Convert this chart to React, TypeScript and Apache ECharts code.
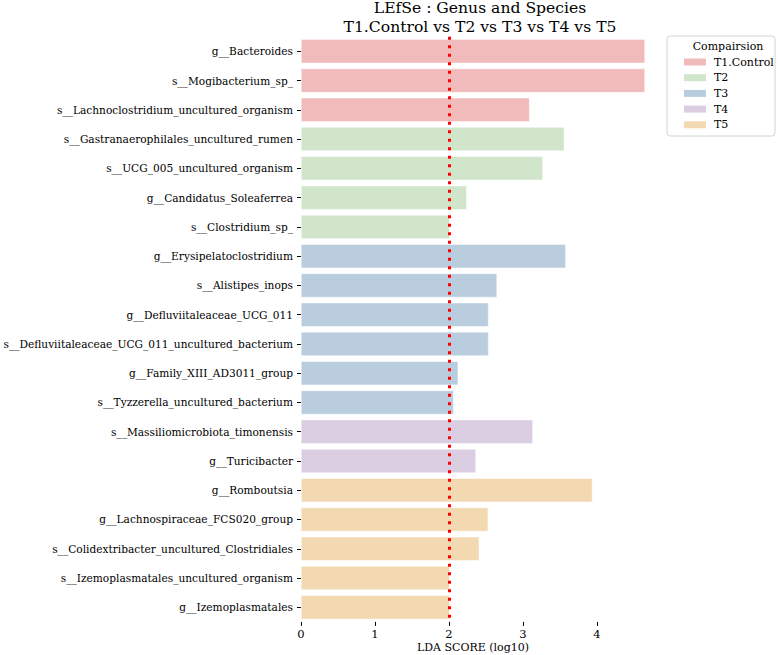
import React, { useEffect, useRef } from "react";
import * as echarts from "echarts";

const categories = [
  "g__Bacteroides",
  "s__Mogibacterium_sp_",
  "s__Lachnoclostridium_uncultured_organism",
  "s__Gastranaerophilales_uncultured_rumen",
  "s__UCG_005_uncultured_organism",
  "g__Candidatus_Soleaferrea",
  "s__Clostridium_sp_",
  "g__Erysipelatoclostridium",
  "s__Alistipes_inops",
  "g__Defluviitaleaceae_UCG_011",
  "s__Defluviitaleaceae_UCG_011_uncultured_bacterium",
  "g__Family_XIII_AD3011_group",
  "s__Tyzzerella_uncultured_bacterium",
  "s__Massiliomicrobiota_timonensis",
  "g__Turicibacter",
  "g__Romboutsia",
  "g__Lachnospiraceae_FCS020_group",
  "s__Colidextribacter_uncultured_Clostridiales",
  "s__Izemoplasmatales_uncultured_organism",
  "g__Izemoplasmatales",
];

const ldaScores = [
  4.65, 4.65, 3.09, 3.56, 3.27, 2.24, 2.01, 3.58, 2.65, 2.535, 2.535, 2.125,
  2.065, 3.135, 2.365, 3.94, 2.53, 2.41, 2.01, 2.01,
];

const groupOf = [
  "T1.Control", "T1.Control", "T1.Control",
  "T2", "T2", "T2", "T2",
  "T3", "T3", "T3", "T3", "T3", "T3",
  "T4", "T4",
  "T5", "T5", "T5", "T5", "T5",
];

const groups = ["T1.Control", "T2", "T3", "T4", "T5"];
const groupColors = ["#F0BBBA", "#D1E5CB", "#B9CDDF", "#DBCDE2", "#F3D9B1"];

const xTicks = [0, 1, 2, 3, 4];
const threshold = 2;

const titleLines = ["LEfSe : Genus and Species", "T1.Control vs T2 vs T3 vs T4 vs T5"];
const legendTitle = "Compairsion";
const xAxisName = "LDA SCORE (log10)";

const FONT = "DejaVu Serif";

export default function App() {
  const ref = useRef<HTMLDivElement>(null);

  useEffect(() => {
    if (!ref.current) return;
    const chart = echarts.init(ref.current, undefined, { renderer: "svg" });

    const series: any[] = groups.map((g, gi) => ({
      name: g,
      type: "bar",
      stack: "all",
      barCategoryGap: "18%",
      itemStyle: { color: groupColors[gi], borderColor: "#ffffff", borderWidth: 0.5 },
      data: ldaScores.map((v, i) => (groupOf[i] === g ? v : "-")),
      ...(gi === 0
        ? {
            markLine: {
              silent: true,
              symbol: ["none", "none"],
              z: 10,
              label: { show: false },
              lineStyle: { color: "#ff0000", width: 3, type: [3, 5.5], cap: "butt" },
              data: [{ xAxis: threshold }],
            },
          }
        : {}),
    }));

    // legend drawn as graphic (box, title, swatches, labels)
    const legendX = 667;
    const legendY = 36;
    const legendItems: any[] = [];
    groups.forEach((g, gi) => {
      const cy = 62 + gi * 15.7;
      legendItems.push({
        type: "rect",
        shape: { x: 684, y: cy - 3.5, width: 22, height: 7 },
        style: { fill: groupColors[gi] },
      });
      legendItems.push({
        type: "text",
        x: 714,
        y: cy,
        style: {
          text: g,
          fontFamily: FONT,
          fontSize: 11,
          fill: "#000000",
          align: "left",
          verticalAlign: "middle",
        },
      });
    });

    chart.setOption({
      animation: false,
      backgroundColor: "#ffffff",
      textStyle: { fontFamily: FONT },
      grid: {
        left: 301,
        right: 133,
        top: 36.7,
        height: 585.2,
        containLabel: false,
        outerBoundsMode: "none",
      },
      graphic: [
        {
          type: "text",
          x: 480,
          y: 8.3,
          style: {
            text: titleLines[0],
            fontFamily: FONT,
            fontSize: 15.6,
            fill: "#000000",
            align: "center",
            verticalAlign: "middle",
          },
        },
        {
          type: "text",
          x: 480,
          y: 26.5,
          style: {
            text: titleLines[1],
            fontFamily: FONT,
            fontSize: 15.6,
            fill: "#000000",
            align: "center",
            verticalAlign: "middle",
          },
        },
        {
          type: "text",
          x: 473,
          y: 647.5,
          style: {
            text: xAxisName,
            fontFamily: FONT,
            fontSize: 11,
            fill: "#000000",
            align: "center",
            verticalAlign: "middle",
          },
        },
        {
          type: "rect",
          shape: { x: legendX, y: legendY, width: 108, height: 100, r: 3 },
          style: { fill: "#ffffff", stroke: "#d4d4d4", lineWidth: 1 },
        },
        {
          type: "text",
          x: 728,
          y: 46,
          style: {
            text: legendTitle,
            fontFamily: FONT,
            fontSize: 11,
            fill: "#000000",
            align: "center",
            verticalAlign: "middle",
          },
        },
        ...legendItems,
      ],
      xAxis: {
        type: "value",
        min: 0,
        max: 4.65,
        interval: 1,
        axisLine: { show: false },
        axisTick: { show: true, length: 4, lineStyle: { color: "#000000" }, customValues: xTicks },
        axisLabel: {
          fontFamily: FONT,
          fontSize: 11.5,
          color: "#000000",
          margin: 6,
          customValues: xTicks,
        },
        splitLine: { show: false },
      },
      yAxis: {
        type: "category",
        data: categories,
        inverse: true,
        axisLine: { show: false },
        axisTick: { show: true, length: 4, alignWithLabel: true, lineStyle: { color: "#000000" } },
        axisLabel: { fontFamily: FONT, fontSize: 10.6, color: "#000000", margin: 8 },
        splitLine: { show: false },
      },
      series,
    });

    return () => chart.dispose();
  }, []);

  return (
    <div
      ref={ref}
      style={{ position: "fixed", left: 0, top: 0, width: 778, height: 655, background: "#fff" }}
    />
  );
}
